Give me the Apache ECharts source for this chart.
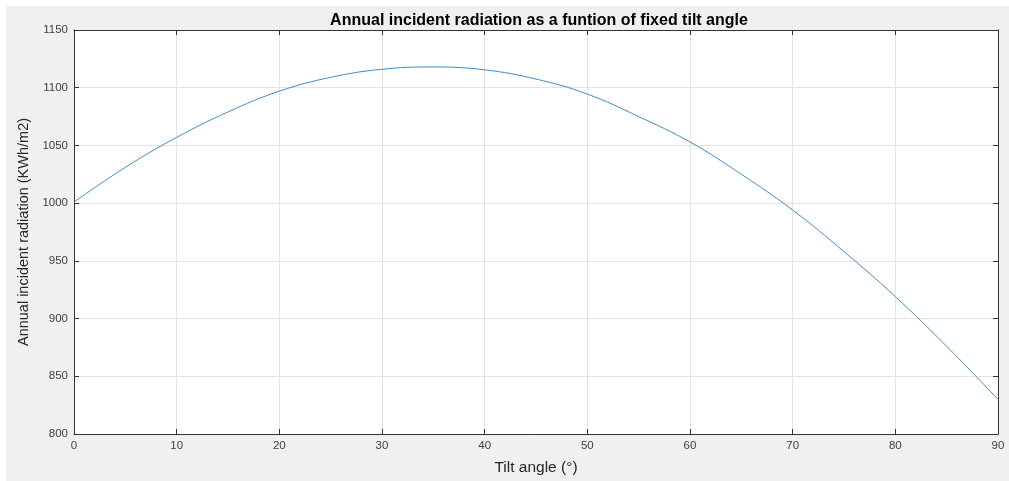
<!DOCTYPE html>
<html>
<head>
<meta charset="utf-8">
<script src="https://cdn.jsdelivr.net/npm/echarts@6/dist/echarts.min.js"></script>
<style>
html,body{margin:0;padding:0;background:#fff;}
#chart{width:1009px;height:481px;}
</style>
</head>
<body>
<div id="chart"></div>
<script>
const titleText = 'Annual incident radiation as a funtion of fixed tilt angle';
const xName = 'Tilt angle (°)';
const yName = 'Annual incident radiation (KWh/m2)';
const tiltAngles = [0,5,10,15,20,25,30,35,40,45,50,55,60,65,70,75,80,85,90];
const radiation = [1001,1031,1057,1079,1097,1109,1116,1118,1115.5,1107.5,1094.5,1075,1053,1025,994,958,919,876,830];
const xMin = 0, xMax = 90, xStep = 10;
const yMin = 800, yMax = 1150, yStep = 50;

const chart = echarts.init(document.getElementById('chart'), null, {renderer:'canvas'});
const axisColor = '#333333';
const labelColor = '#404040';
const fontFam = '"Liberation Sans", Arial, Helvetica, sans-serif';
const plain = v => String(v);
const baseAxis = {
  type:'value',
  axisLine:{show:true,onZero:false,lineStyle:{color:axisColor,width:1}},
  axisTick:{show:true,inside:true,length:5,lineStyle:{color:axisColor,width:1}},
  splitLine:{show:false}
};
chart.setOption({
  backgroundColor:'#ffffff',
  animation:false,
  graphic:[{type:'rect',shape:{x:6,y:6,width:1003,height:475},style:{fill:'#f0f0f0'},z:-10}],
  title:{text:titleText,left:534,top:8,textAlign:'center',
    textStyle:{fontFamily:fontFam,fontSize:16,fontWeight:'bold',color:'#000'}},
  grid:{left:74,top:30,right:11,bottom:42,show:true,backgroundColor:'#ffffff',borderWidth:0},
  xAxis:[
    Object.assign({},baseAxis,{min:xMin,max:xMax,interval:xStep,position:'bottom',
      name:xName,nameLocation:'middle',nameGap:26,
      nameTextStyle:{fontFamily:fontFam,fontSize:15.5,color:'#262626'},
      axisLabel:{fontFamily:fontFam,fontSize:11.5,color:labelColor,margin:6,formatter:plain},
      splitLine:{show:true,lineStyle:{color:'#e3e3e3',width:1}}}),
    Object.assign({},baseAxis,{min:xMin,max:xMax,interval:xStep,position:'top',
      axisLabel:{show:false}})
  ],
  yAxis:[
    Object.assign({},baseAxis,{min:yMin,max:yMax,interval:yStep,position:'left',
      name:yName,nameLocation:'middle',nameGap:42,nameRotate:90,
      nameTextStyle:{fontFamily:fontFam,fontSize:14.5,color:'#262626'},
      axisLabel:{fontFamily:fontFam,fontSize:11.5,color:labelColor,margin:6,formatter:plain},
      splitLine:{show:true,lineStyle:{color:'#e3e3e3',width:1}}}),
    Object.assign({},baseAxis,{min:yMin,max:yMax,interval:yStep,position:'right',
      axisLabel:{show:false}})
  ],
  series:[{
    type:'line',
    data:tiltAngles.map((a,i)=>[a,radiation[i]]),
    smooth:0.4,
    showSymbol:false,
    lineStyle:{color:'#3d8ec6',width:1},
    xAxisIndex:0,yAxisIndex:0
  }]
});
</script>
</body>
</html>
